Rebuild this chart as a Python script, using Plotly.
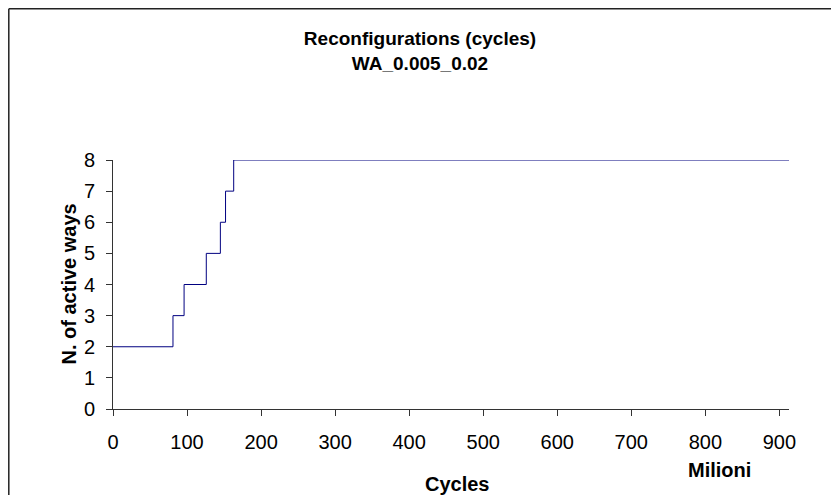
import plotly.graph_objects as go

# step changes of the number of active ways (cycles in millions)
cycles = [0, 81, 96, 126, 145, 152, 163, 913]
active_ways = [2, 3, 4, 5, 6, 7, 8, 8]

x_ticks = [0, 100, 200, 300, 400, 500, 600, 700, 800, 900]
y_ticks = [0, 1, 2, 3, 4, 5, 6, 7, 8]

FONT = "Liberation Sans, Arial, sans-serif"

# the page body adds an 8px margin, so the figure is laid out 8px up/left
W, H = 831, 487
L, R, T, B = 105, 50, 152, 86
PW, PH = W - L - R, H - T - B

fig = go.Figure([
    go.Scatter(x=cycles, y=active_ways, mode="lines", line_shape="hv",
               line=dict(color="#000080", width=1), showlegend=False)
])

fig.update_layout(
    width=W, height=H,
    margin=dict(l=L, r=R, t=T, b=B),
    paper_bgcolor="white", plot_bgcolor="white",
    font=dict(family=FONT, size=20, color="black"),
    title=dict(text="<b>Reconfigurations (cycles)<br>WA_0.005_0.02</b>",
               x=(420 - 8) / W, xref="container", xanchor="center",
               y=1 - 37 / H, yref="container", yanchor="middle",
               font=dict(size=19)),
)
fig.update_xaxes(range=[0, 913], tickvals=x_ticks, showgrid=False, zeroline=False,
                 showline=True, linecolor="#333", linewidth=1,
                 ticks="outside", ticklen=6, tickcolor="#333",
                 ticklabelstandoff=9)
fig.update_yaxes(range=[0, 8], tickvals=y_ticks, showgrid=False, zeroline=False,
                 showline=True, linecolor="#333", linewidth=1,
                 ticks="outside", ticklen=6, tickcolor="#333",
                 ticklabelstandoff=7)

fig.add_annotation(text="<b>N. of active ways</b>", textangle=-90,
                   xref="paper", yref="paper", x=(47 - L) / PW, y=0.5,
                   showarrow=False, font=dict(size=20))
fig.add_annotation(text="<b>Cycles</b>", xref="paper", yref="paper",
                   x=(449 - L) / PW, y=-(476 - (H - B)) / PH, yanchor="middle",
                   showarrow=False, font=dict(size=20))
fig.add_annotation(text="<b>Milioni</b>", xref="paper", yref="paper",
                   x=(745 - L) / PW, y=-(462 - (H - B)) / PH, yanchor="middle",
                   showarrow=False, font=dict(size=20))

# chart frame (only left and top edges are visible in the picture)
fx = (0.8 - L) / PW
fy = (H - B - 0.8) / PH
fig.add_shape(type="line", xref="paper", yref="paper",
              x0=fx, x1=fx, y0=-1, y1=fy, line=dict(color="#222", width=1.5))
fig.add_shape(type="line", xref="paper", yref="paper",
              x0=fx, x1=2, y0=fy, y1=fy, line=dict(color="#222", width=1.5))

fig.write_html("out.html")
